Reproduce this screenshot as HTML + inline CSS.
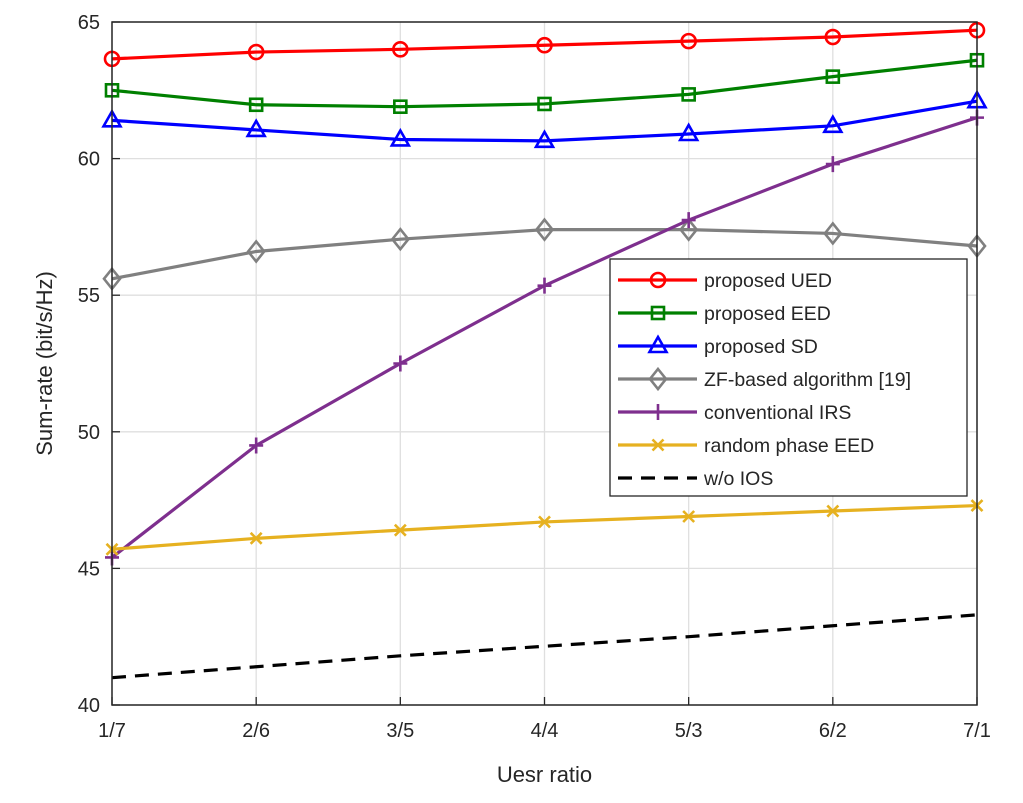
<!DOCTYPE html>
<html><head><meta charset="utf-8"><style>
body{margin:0;background:#fff;}
svg text{font-family:"Liberation Sans",sans-serif;fill:#262626;}
</style></head><body>
<svg id="chart" width="1023" height="798"></svg>
<script>
const categories=["1/7","2/6","3/5","4/4","5/3","6/2","7/1"];
const yTicks=[40,45,50,55,60,65];
const uedValues=[63.65,63.9,64.0,64.15,64.3,64.45,64.7];
const eedValues=[62.5,61.97,61.9,62.0,62.35,63.0,63.6];
const sdValues=[61.4,61.05,60.7,60.65,60.9,61.2,62.1];
const zfValues=[55.6,56.6,57.05,57.4,57.4,57.26,56.8];
const irsValues=[45.4,49.5,52.5,55.35,57.75,59.8,61.5];
const randomValues=[45.7,46.1,46.4,46.7,46.9,47.1,47.3];
const noIosValues=[41.0,41.4,41.8,42.15,42.5,42.9,43.3];
const seriesNames=["proposed UED","proposed EED","proposed SD","ZF-based algorithm [19]","conventional IRS","random phase EED","w/o IOS"];

const NS="http://www.w3.org/2000/svg";
const svg=document.getElementById('chart');
const L=112,R=977,T=22,B=705;
const xS=i=>L+(R-L)*i/(categories.length-1);
const yS=v=>B-(v-40)/25*(B-T);
function mk(tag,attrs,parent){const e=document.createElementNS(NS,tag);for(const k in attrs)e.setAttribute(k,attrs[k]);(parent||svg).appendChild(e);return e;}

// grid
categories.forEach((c,i)=>{const g=mk('line',{x1:xS(i),x2:xS(i),y1:T,y2:B,stroke:'#dfdfdf','stroke-width':1.3});
});
yTicks.forEach(v=>{const g=mk('line',{x1:L,x2:R,y1:yS(v),y2:yS(v),stroke:'#dfdfdf','stroke-width':1.3});
});

const series=[
 {v:uedValues,c:'#ff0000',m:'circle'},
 {v:eedValues,c:'#008000',m:'square'},
 {v:sdValues,c:'#0000ff',m:'triangle'},
 {v:zfValues,c:'#808080',m:'diamond'},
 {v:irsValues,c:'#7e2f8e',m:'plus'},
 {v:randomValues,c:'#e6b120',m:'x'},
 {v:noIosValues,c:'#000000',m:'none',dash:'14,9'}
];
function marker(g,type,x,y,c){
 const st={fill:'none',stroke:c,'stroke-width':2.6};
 let e;
 if(type==='circle')e=mk('circle',Object.assign({cx:x,cy:y,r:7},st),g);
 else if(type==='square')e=mk('rect',Object.assign({x:x-6,y:y-6,width:12,height:12},st),g);
 else if(type==='triangle')e=mk('polygon',Object.assign({points:`${x},${y-9} ${x-8.5},${y+6} ${x+8.5},${y+6}`},st),g);
 else if(type==='diamond')e=mk('polygon',Object.assign({points:`${x},${y-10} ${x+8},${y} ${x},${y+10} ${x-8},${y}`},st),g);
 else if(type==='plus')e=mk('path',Object.assign({d:`M${x-7},${y}H${x+7}M${x},${y-8}V${y+8}`},st),g);
 else if(type==='x')e=mk('path',Object.assign({d:`M${x-5.5},${y-5.5}L${x+5.5},${y+5.5}M${x-5.5},${y+5.5}L${x+5.5},${y-5.5}`},st),g);
 if(e){}
}
series.forEach((s,si)=>{
 const g=mk('g',{});
 
 
 const pl=mk('polyline',{points:s.v.map((v,i)=>xS(i)+','+yS(v)).join(' '),fill:'none',stroke:s.c,'stroke-width':3.2,'stroke-dasharray':s.dash||'none'},g);
 
 s.v.forEach((v,i)=>marker(g,s.m,xS(i),yS(v),s.c));
});

// axes box
const box=mk('rect',{x:L,y:T,width:R-L,height:B-T,fill:'none',stroke:'#262626','stroke-width':1.5});

categories.forEach((c,i)=>{
 mk('line',{x1:xS(i),x2:xS(i),y1:B,y2:B-8,stroke:'#262626','stroke-width':1.3});
 const t=mk('text',{x:xS(i),y:B+32,'text-anchor':'middle','font-size':20});t.textContent=c;
 
});
yTicks.forEach(v=>{
 mk('line',{x1:L,x2:L+8,y1:yS(v),y2:yS(v),stroke:'#262626','stroke-width':1.3});
 const t=mk('text',{x:L-12,y:yS(v)+7,'text-anchor':'end','font-size':20});t.textContent=v;
 
});
const xt=mk('text',{x:(L+R)/2,y:782,'text-anchor':'middle','font-size':22});xt.textContent='Uesr ratio';

const yt=mk('text',{x:0,y:0,'text-anchor':'middle','font-size':22,transform:`translate(52,${(T+B)/2}) rotate(-90)`});yt.textContent='Sum-rate (bit/s/Hz)';


// legend
const lg=mk('g',{});

mk('rect',{x:610,y:259,width:357,height:237,fill:'#fff',stroke:'#262626','stroke-width':1.3},lg);
series.forEach((s,i)=>{
 const y=280+i*33;
 const e=mk('g',{},lg);
 
 mk('line',{x1:618,x2:697,y1:y,y2:y,stroke:s.c,'stroke-width':3.2,'stroke-dasharray':s.dash||'none'},e);
 marker(e,s.m,658,y,s.c);
 const t=mk('text',{x:704,y:y+7,'font-size':19.5},e);t.textContent=seriesNames[i];
});
</script>
</body></html>
